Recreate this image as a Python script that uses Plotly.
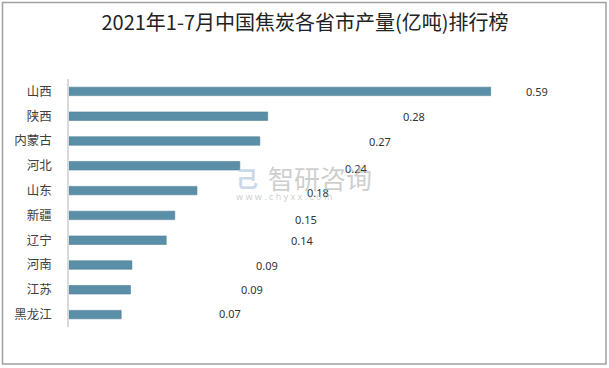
import plotly.graph_objects as go

# ---- data ----
provinces = ["山西", "陕西", "内蒙古", "河北", "山东", "新疆", "辽宁", "河南", "江苏", "黑龙江"]
output_values = [0.590, 0.278, 0.267, 0.239, 0.179, 0.148, 0.136, 0.088, 0.086, 0.073]
title_text = "2021年1-7月中国焦炭各省市产量(亿吨)排行榜"

# ---- layout constants ----
W, H = 609, 368
ML, MR, MT, MB = 69, 29, 79, 41
PW = W - ML - MR
PH = H - MT - MB
XMAX = 0.715

# per-label pixel offsets (styling of the label placement)
label_xshift = [33, 133, 107, 103, 108, 118, 123, 122, 109, 96]
label_yshift = [0, 0, 0, -3, -2, -4, 0, 0, 0, 1]

def px_to_paper_x(px):
    return (px - ML) / PW

def px_to_paper_y(py):
    return (H - MB - py) / PH

fig = go.Figure()
fig.add_trace(go.Bar(
    x=output_values,
    y=provinces,
    orientation="h",
    marker=dict(color="#5B8FA8", line=dict(color="#4E7E95", width=0.6)),
    hoverinfo="x+y",
))

annotations = []
for p, v, dx, dy in zip(provinces, output_values, label_xshift, label_yshift):
    annotations.append(dict(
        x=v, y=p, xref="x", yref="y", text=f"{v:.2f}",
        showarrow=False, xanchor="left", yanchor="middle",
        xshift=dx, yshift=dy,
        font=dict(family="Noto Sans, DejaVu Sans, sans-serif", size=11, color="#333333"),
    ))

# watermark
annotations.append(dict(
    x=px_to_paper_x(266), y=px_to_paper_y(177), xref="paper", yref="paper",
    text="智研咨询", showarrow=False, xanchor="left", yanchor="middle",
    font=dict(family="Noto Sans CJK SC", size=26, color="rgba(185,185,185,0.7)"),
))
annotations.append(dict(
    x=px_to_paper_x(234), y=px_to_paper_y(196), xref="paper", yref="paper",
    text="w w w . c h y x x . c o m", showarrow=False, xanchor="left", yanchor="middle",
    font=dict(family="Noto Sans", size=9, color="rgba(185,185,185,0.7)"),
))
annotations.append(dict(
    x=px_to_paper_x(234), y=px_to_paper_y(177), xref="paper", yref="paper",
    text="<b>己</b>", showarrow=False, xanchor="left", yanchor="middle",
    font=dict(family="Noto Sans CJK SC", size=22, color="rgba(170,190,215,0.6)"),
))

fig.update_layout(
    width=W, height=H,
    margin=dict(l=ML, r=MR, t=MT, b=MB),
    paper_bgcolor="white", plot_bgcolor="white",
    title=dict(
        text=title_text, x=305 / W, xref="container", xanchor="center",
        y=1 - 23 / H, yref="container", yanchor="middle",
        font=dict(family="Noto Sans CJK SC", size=20, color="#222222"),
    ),
    xaxis=dict(range=[0, XMAX], visible=False, showgrid=False, zeroline=False, fixedrange=True),
    yaxis=dict(
        categoryorder="array", categoryarray=provinces, autorange="reversed",
        showline=True, linecolor="#D9D9D9", linewidth=1.5,
        ticks="", ticklabelstandoff=13, showgrid=False,
        tickfont=dict(family="Noto Sans CJK SC", size=12.5, color="#404040"),
    ),
    bargap=0.66,
    showlegend=False,
    annotations=annotations,
    shapes=[dict(
        type="rect", xref="paper", yref="paper",
        x0=px_to_paper_x(2.5), x1=px_to_paper_x(606),
        y0=px_to_paper_y(364), y1=px_to_paper_y(2.5),
        line=dict(color="#A0A0A0", width=1.5), fillcolor="rgba(0,0,0,0)", layer="below",
    )],
)

fig.write_html(
    "out.html",
    config={"displayModeBar": False},
    post_script="document.body.style.margin='0';document.body.style.padding='0';",
)
